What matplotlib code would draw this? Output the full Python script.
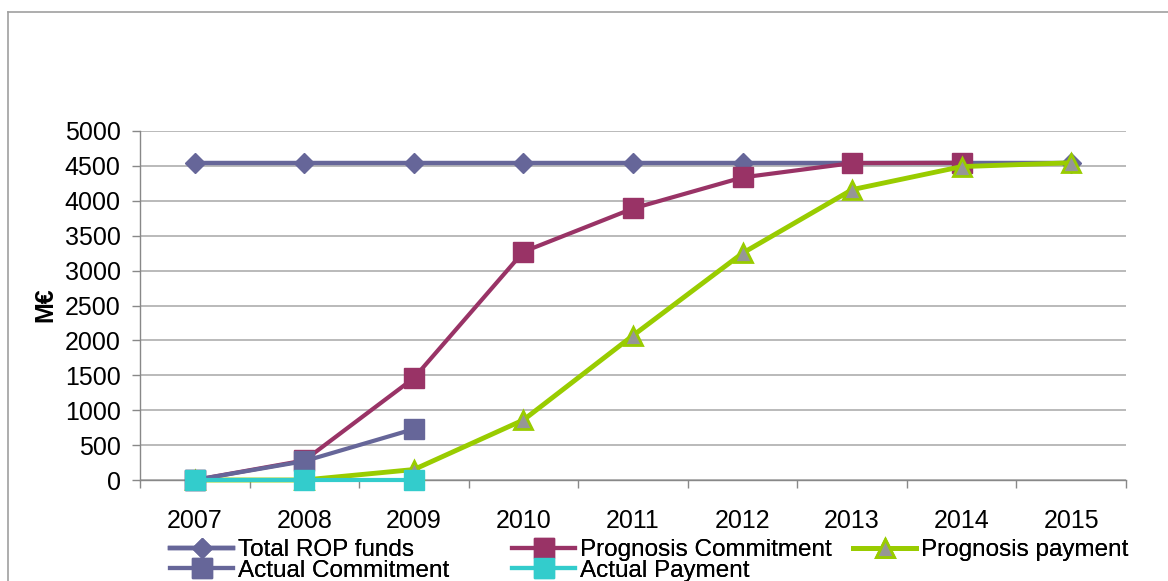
import matplotlib
matplotlib.use("Agg")
import matplotlib.pyplot as plt
from matplotlib.lines import Line2D

plt.rcParams['font.family'] = ['Liberation Sans', 'DejaVu Sans']

# data (M€)
years = ['2007', '2008', '2009', '2010', '2011', '2012', '2013', '2014', '2015']
total_rop = [4540, 4540, 4540, 4540, 4540, 4540, 4540, 4540, 4540]
prog_commit = [0, 280, 1460, 3270, 3890, 4335, 4540, 4545]
prog_payment = [0, 0, 150, 860, 2070, 3250, 4160, 4490, 4545]
actual_commit = [0, 270, 730]
actual_payment = [0, 0, 0]

fig = plt.figure(figsize=(11.68, 5.81), dpi=100)
ax = fig.add_axes([140 / 1168, 1 - 480 / 581, 986 / 1168, 349 / 581])

x = range(len(years))
h1, = ax.plot(x, total_rop, color='#666699', lw=3.2, marker='D', ms=10.5,
              label='Total ROP funds', clip_on=False, zorder=3)
h2, = ax.plot(x[:len(prog_commit)], prog_commit, color='#993366', lw=3, marker='s', ms=14,
              label='Prognosis Commitment', clip_on=False, zorder=4)
h3, = ax.plot(x, prog_payment, color='#99CC00', lw=3.5, marker='^', ms=13,
              mfc='#969696', mec='#99CC00', mew=2, label='Prognosis payment',
              clip_on=False, zorder=5)
h4, = ax.plot(x[:len(actual_commit)], actual_commit, color='#666699', lw=3, marker='s', ms=14,
              label='Actual Commitment', clip_on=False, zorder=6)
h5, = ax.plot(x[:len(actual_payment)], actual_payment, color='#33CCCC', lw=3, marker='s', ms=14.5,
              label='Actual Payment', clip_on=False, zorder=7)

ax.set_xlim(-0.5, len(years) - 0.5)
ax.set_ylim(0, 5000)
ax.set_yticks(range(0, 5001, 500))
ax.set_xticks(list(x))
ax.set_xticklabels(years, fontsize=18)
ax.set_xticks([i - 0.5 for i in range(len(years) + 1)], minor=True)
ax.tick_params(axis='x', which='major', length=0, pad=21)
ax.tick_params(axis='x', which='minor', length=6, width=1, color='#888888', direction='out')
ax.tick_params(axis='y', length=6, width=1, color='#888888', pad=8, labelsize=18)

ax.grid(axis='y', color='#B4B4B4', lw=1.3)
ax.set_axisbelow(True)
for s in ['top', 'right']:
    ax.spines[s].set_visible(False)
for s in ['left', 'bottom']:
    ax.spines[s].set_color('#888888')
    ax.spines[s].set_linewidth(1)

fig.text(45 / 1168, 1 - 305 / 581, 'M€', rotation=90, fontsize=18, fontweight='bold',
         ha='center', va='center')

# legend in three columns, as in the original
cols = [([h1, h4], 170), ([h2, h5], 512), ([h3], 853)]
for handles, px in cols:
    leg = fig.legend(handles=handles, loc='upper left', bbox_to_anchor=(px / 1168, 1 - 539 / 581),
                     frameon=False, fontsize=17.5, handlelength=2.6, handletextpad=0.2,
                     borderpad=0, borderaxespad=0, labelspacing=-0.05)
    fig.add_artist(leg)

# outer chart frame (cut off at right and bottom)
fig.add_artist(Line2D([8 / 1168, 8 / 1168], [0, 1 - 12 / 581], transform=fig.transFigure,
                      color='#A0A0A0', lw=1.2))
fig.add_artist(Line2D([8 / 1168, 1], [1 - 12 / 581, 1 - 12 / 581], transform=fig.transFigure,
                      color='#A0A0A0', lw=1.2))

fig.savefig('out.png', dpi=100)
